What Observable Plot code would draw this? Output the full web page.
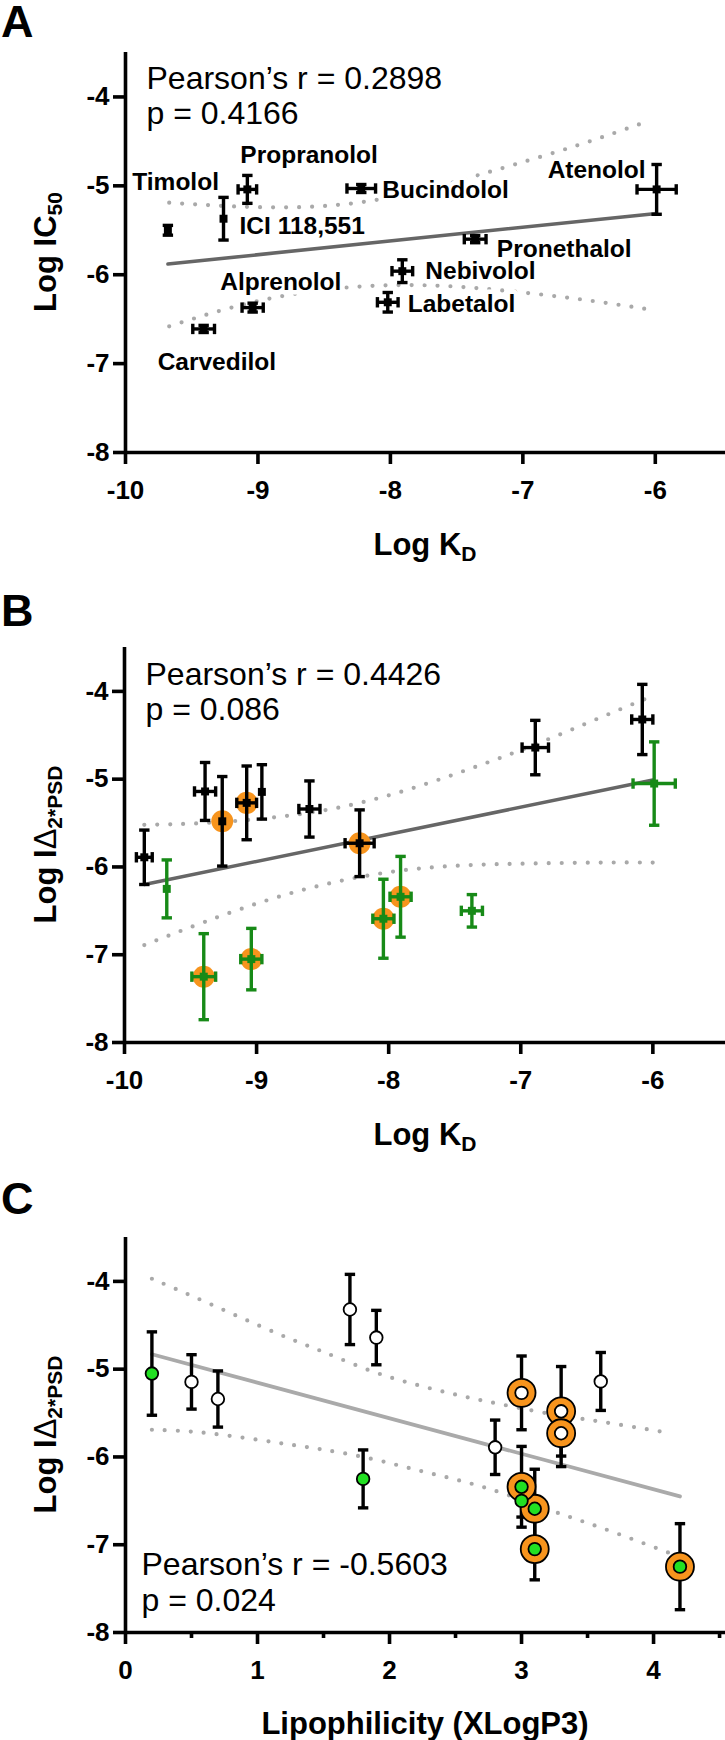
<!DOCTYPE html>
<html>
<head>
<meta charset="utf-8">
<script src="https://cdn.jsdelivr.net/npm/d3@7"></script>
<script src="https://cdn.jsdelivr.net/npm/@observablehq/plot@0.6"></script>
<style>
  html, body { margin: 0; padding: 0; background: white; }
  #chart { width: 725px; height: 1740px; position: relative; overflow: hidden; }
  #chart svg { display: block; }
</style>
</head>
<body>
<div id="chart"></div>
<script>
// ---------------- Panel A data ----------------
const drugsA = ["Timolol", "ICI 118,551", "Propranolol", "Bucindolol", "Atenolol", "Pronethalol", "Nebivolol", "Labetalol", "Alprenolol", "Carvedilol"];
const logKdA = [-9.68, -9.26, -9.08, -8.22, -5.99, -7.36, -7.91, -8.02, -9.04, -9.41];
const logKdErrA = [0, 0, 0.07, 0.108, 0.148, 0.082, 0.078, 0.078, 0.08, 0.082];
const logIC50A = [-5.5, -5.37, -5.04, -5.03, -5.04, -5.6, -5.96, -6.31, -6.37, -6.61];
const logIC50ErrA = [0.055, 0.24, 0.157, 0.045, 0.28, 0.04, 0.128, 0.11, 0.05, 0.04];
const fitXA = [-9.68, -5.99];
const fitYA = [-5.88, -5.31];
const bandXA = [-9.67, -9.2, -8.7, -8.2, -7.7, -7.2, -6.6, -6.05];
const bandUpA = [-5.19, -5.23, -5.24, -5.18, -5.03, -4.82, -4.55, -4.27];
const bandLoA = [-6.58, -6.37, -6.21, -6.13, -6.12, -6.17, -6.27, -6.39];
const statsA = ["Pearson’s r = 0.2898", "p = 0.4166"];

// ---------------- Panel B data ----------------
const logKdB1 = [-9.85, -9.39, -9.26, -9.075, -8.96, -8.60, -8.22, -6.89, -6.08];
const logKdErrB1 = [0.06, 0.08, 0, 0.075, 0, 0.08, 0.11, 0.10, 0.08];
const logDeltaB1 = [-5.89, -5.14, -5.48, -5.27, -5.145, -5.34, -5.73, -4.64, -4.32];
const logDeltaErrB1 = [0.31, 0.33, 0.51, 0.42, 0.31, 0.32, 0.38, 0.31, 0.40];
const highlightB1 = [false, false, true, true, false, false, true, false, false];

const logKdB2 = [-9.68, -9.40, -9.04, -8.04, -7.91, -7.37, -5.99];
const logKdErrB2 = [0, 0.09, 0.08, 0.08, 0.08, 0.08, 0.16];
const logDeltaB2 = [-6.25, -7.25, -7.05, -6.59, -6.34, -6.50, -5.05];
const logDeltaErrB2 = [0.33, 0.49, 0.35, 0.45, 0.46, 0.185, 0.475];
const highlightB2 = [false, true, true, true, true, false, false];

const fitXB = [-9.85, -6.0];
const fitYB = [-6.20, -5.01];
const bandXB = [-9.85, -9.4, -8.9, -8.4, -7.9, -7.4, -6.9, -6.4, -6.0];
const bandUpB = [-5.52, -5.50, -5.44, -5.33, -5.14, -4.89, -4.61, -4.30, -4.05];
const bandLoB = [-6.89, -6.63, -6.37, -6.17, -6.04, -5.98, -5.96, -5.95, -5.95];
const statsB = ["Pearson’s r = 0.4426", "p = 0.086"];

// ---------------- Panel C data ----------------
const xlogpC1 = [2.8, 3.6, 3.3, 3.0, 0.5, 0.7, 3.3, 1.9, 1.7];
const xlogpC2 = [1.8, 4.2, 3.1, 3.1, 3.0, 3.0, 0.2];
const fitXC = [0.2, 4.2];
const fitYC = [-4.83, -6.45];
const bandXC = [0.2, 0.63, 1.16, 1.51, 1.86, 2.21, 2.56, 2.91, 3.26, 3.61, 4.13];
const bandUpC = [-3.97, -4.25, -4.60, -4.81, -5.02, -5.18, -5.31, -5.42, -5.52, -5.60, -5.73];
const bandLoC = [-5.69, -5.73, -5.84, -5.92, -6.02, -6.15, -6.28, -6.44, -6.63, -6.81, -7.10];
const statsC = ["Pearson’s r = -0.5603", "p = 0.024"];

const yTicks = [-8, -7, -6, -5, -4];
const xTicksKd = [-10, -9, -8, -7, -6];
const xTicksC = [0, 1, 2, 3, 4];
const xMinorC = [0.5, 1.5, 2.5, 3.5, 4.5];

// ---------------- styles ----------------
const FONT = "'Liberation Sans', Arial, Helvetica, sans-serif";
const ORANGE = "#F7941D";
const DKGREEN = "#178A17";
const LTGREEN = "#22E022";
const LABEL_STYLE = {
  "Timolol": {dx: -35.6, dy: -48, anchor: "start"},
  "Propranolol": {dx: -7, dy: -34.7, anchor: "start"},
  "ICI 118,551": {dx: 16, dy: 7.9, anchor: "start"},
  "Bucindolol": {dx: 21, dy: 1.4, anchor: "start"},
  "Atenolol": {dx: -11, dy: -19, anchor: "end"},
  "Pronethalol": {dx: 21.7, dy: 10.2, anchor: "start"},
  "Nebivolol": {dx: 23, dy: 0, anchor: "start"},
  "Labetalol": {dx: 20, dy: 2.3, anchor: "start"},
  "Alprenolol": {dx: -32.4, dy: -25.4, anchor: "start"},
  "Carvedilol": {dx: -46, dy: 32.8, anchor: "start"}
};

// ---------------- helpers ----------------
const zipPts = (xs, ys) => xs.map((x, i) => ({x, y: ys[i]}));
const capH = {draw(ctx, size) { const r = Math.sqrt(size / Math.PI); ctx.moveTo(-r, 0); ctx.lineTo(r, 0); }};
const capV = {draw(ctx, size) { const r = Math.sqrt(size / Math.PI); ctx.moveTo(0, -r); ctx.lineTo(0, r); }};
const fmt = d => String(d);

function errorBars(data, color, withX = true) {
  const sw = 3.4, capR = 5.2;
  const yd = data.filter(d => d.ye > 0);
  const xd = withX ? data.filter(d => d.xe > 0) : [];
  return [
    Plot.ruleX(yd, {x: "x", y1: d => d.y - d.ye, y2: d => d.y + d.ye, stroke: color, strokeWidth: sw}),
    Plot.dot(yd, {x: "x", y: d => d.y - d.ye, symbol: capH, r: capR, stroke: color, fill: "none", strokeWidth: sw}),
    Plot.dot(yd, {x: "x", y: d => d.y + d.ye, symbol: capH, r: capR, stroke: color, fill: "none", strokeWidth: sw}),
    Plot.ruleY(xd, {y: "y", x1: d => d.x - d.xe, x2: d => d.x + d.xe, stroke: color, strokeWidth: sw}),
    Plot.dot(xd, {x: d => d.x - d.xe, y: "y", symbol: capV, r: capR, stroke: color, fill: "none", strokeWidth: sw}),
    Plot.dot(xd, {x: d => d.x + d.xe, y: "y", symbol: capV, r: capR, stroke: color, fill: "none", strokeWidth: sw})
  ];
}

function bandMarks(xs, up, lo) {
  const o = {x: "x", y: "y", stroke: "#a9a9a9", strokeWidth: 4.2, strokeDasharray: "0 13", strokeLinecap: "round", curve: "natural"};
  return [Plot.line(zipPts(xs, up), o), Plot.line(zipPts(xs, lo), o)];
}

function statsText(lines, dx, dy) {
  return Plot.text([lines.join("\n")], {text: d => d, frameAnchor: "top-left", textAnchor: "start", lineAnchor: "top",
    dx, dy, fontSize: 32, fontWeight: "normal", lineHeight: 1.12, fill: "black"});
}

function makePanel({height, marginTop, marginBottom, marginLeft, xDomain, xTicks, xMinor, marks}) {
  return Plot.plot({
    width: 725, height, marginTop, marginBottom, marginLeft, marginRight: 0,
    x: {domain: xDomain}, y: {domain: [-8, -3.5]},
    style: {fontFamily: FONT, background: "white", color: "black", overflow: "visible"},
    marks: [
      ...marks,
      Plot.ruleX([xDomain[0]], {strokeWidth: 3.6}),
      Plot.ruleY([-8], {strokeWidth: 3.6}),
      Plot.axisY({ticks: yTicks, tickSize: 12, tickPadding: 4, tickFormat: fmt, fontSize: 26, fontWeight: "bold", strokeWidth: 3.6, label: null}),
      Plot.axisX({ticks: xTicks, tickSize: 12, tickPadding: 16, tickFormat: fmt, fontSize: 26, fontWeight: "bold", strokeWidth: 3.6, label: null}),
      ...(xMinor ? [Plot.axisX({ticks: xMinor, tickSize: 6, tickFormat: () => "", strokeWidth: 3.6, label: null})] : [])
    ]
  });
}

function addLetter(svg, letter, baseline) {
  d3.select(svg).append("text").attr("x", 1).attr("y", baseline).attr("text-anchor", "start").attr("font-family", FONT)
    .attr("font-size", 45).attr("font-weight", "bold").attr("fill", "black").text(letter);
}
function addXTitle(svg, main, sub, baseline) {
  const t = d3.select(svg).append("text").attr("x", 425).attr("y", baseline).attr("text-anchor", "middle")
    .attr("font-family", FONT).attr("font-size", 31).attr("font-weight", "bold").attr("fill", "black");
  t.append("tspan").text(main);
  if (sub) t.append("tspan").attr("font-size", 21).attr("dy", 6).text(sub);
}
function addYTitle(svg, parts, cy) {
  const t = d3.select(svg).append("text").attr("transform", `translate(56,${cy}) rotate(-90)`).attr("text-anchor", "middle")
    .attr("font-family", FONT).attr("font-size", 31).attr("font-weight", "bold").attr("fill", "black");
  for (const p of parts) {
    const s = t.append("tspan").text(p.text);
    if (p.weight) s.attr("font-weight", p.weight);
    if (p.sub) s.attr("font-size", 21).attr("dy", 6);
  }
}

// ---------------- build data records ----------------
const recA = drugsA.map((name, i) => ({name, x: logKdA[i], xe: logKdErrA[i], y: logIC50A[i], ye: logIC50ErrA[i]}));
const recB1 = logKdB1.map((x, i) => ({x, xe: logKdErrB1[i], y: logDeltaB1[i], ye: logDeltaErrB1[i], hl: highlightB1[i]}));
const recB2 = logKdB2.map((x, i) => ({x, xe: logKdErrB2[i], y: logDeltaB2[i], ye: logDeltaErrB2[i], hl: highlightB2[i]}));
const recC1 = xlogpC1.map((x, i) => ({x, xe: 0, y: logDeltaB1[i], ye: logDeltaErrB1[i], hl: highlightB1[i]}));
const recC2 = xlogpC2.map((x, i) => ({x, xe: 0, y: logDeltaB2[i], ye: logDeltaErrB2[i], hl: highlightB2[i]}));

// ---------------- Panel A ----------------
const labelHaloA = recA.map(d => {
  const s = LABEL_STYLE[d.name];
  return Plot.text([d], {x: "x", y: "y", text: "name", dx: s.dx, dy: s.dy, textAnchor: s.anchor, fontSize: 24.5, fontWeight: "bold", fill: "white", stroke: "white", strokeWidth: 9});
});
const labelTextA = recA.map(d => {
  const s = LABEL_STYLE[d.name];
  return Plot.text([d], {x: "x", y: "y", text: "name", dx: s.dx, dy: s.dy, textAnchor: s.anchor, fontSize: 24.5, fontWeight: "bold", fill: "black"});
});

const svgA = makePanel({
  height: 580, marginTop: 52, marginBottom: 128, marginLeft: 125, xDomain: [-10, -5.47], xTicks: xTicksKd,
  marks: [
    ...bandMarks(bandXA, bandUpA, bandLoA),
    ...labelHaloA,
    Plot.line(zipPts(fitXA, fitYA), {x: "x", y: "y", stroke: "#666", strokeWidth: 3.5}),
    ...errorBars(recA, "black"),
    Plot.dot(recA, {x: "x", y: "y", symbol: "square", r: 4.5, fill: "black"}),
    ...labelTextA,
    statsText(statsA, 21, 10.6)
  ]
});
addLetter(svgA, "A", 37);
addXTitle(svgA, "Log K", "D", 555);
addYTitle(svgA, [{text: "Log IC"}, {text: "50", sub: true}], 252);

// ---------------- Panel B ----------------
const svgB = makePanel({
  height: 580, marginTop: 67, marginBottom: 118, marginLeft: 124, xDomain: [-10, -5.45], xTicks: xTicksKd,
  marks: [
    ...bandMarks(bandXB, bandUpB, bandLoB),
    Plot.line(zipPts(fitXB, fitYB), {x: "x", y: "y", stroke: "#666", strokeWidth: 3.5}),
    Plot.dot(recB1.concat(recB2).filter(d => d.hl), {x: "x", y: "y", r: 11, fill: ORANGE}),
    ...errorBars(recB1, "black"),
    ...errorBars(recB2, DKGREEN),
    Plot.dot(recB1, {x: "x", y: "y", symbol: "square", r: 4.5, fill: "black"}),
    Plot.dot(recB2, {x: "x", y: "y", symbol: "square", r: 4.5, fill: DKGREEN}),
    statsText(statsB, 21, 11.6)
  ]
});
addLetter(svgB, "B", 46);
addXTitle(svgB, "Log K", "D", 565);
addYTitle(svgB, [{text: "Log I"}, {text: "Δ", weight: "normal"}, {text: "2*PSD", sub: true}], 264.5);

// ---------------- Panel C ----------------
const svgC = makePanel({
  height: 580, marginTop: 77, marginBottom: 108, marginLeft: 125, xDomain: [0, 4.545], xTicks: xTicksC, xMinor: xMinorC,
  marks: [
    ...bandMarks(bandXC, bandUpC, bandLoC),
    Plot.line(zipPts(fitXC, fitYC), {x: "x", y: "y", stroke: "#aaaaaa", strokeWidth: 3.8}),
    ...errorBars(recC1.concat(recC2), "black", false),
    Plot.dot(recC1.concat(recC2).filter(d => d.hl), {x: "x", y: "y", r: 14, fill: ORANGE, stroke: "black", strokeWidth: 1.8}),
    Plot.dot(recC1, {x: "x", y: "y", r: 6.3, fill: "white", stroke: "black", strokeWidth: 1.8}),
    Plot.dot(recC2, {x: "x", y: "y", r: 6.3, fill: LTGREEN, stroke: "black", strokeWidth: 1.8}),
    statsText(statsC, 16, 312)
  ]
});
addLetter(svgC, "C", 54);
addXTitle(svgC, "Lipophilicity (XLogP3)", null, 574);
addYTitle(svgC, [{text: "Log I"}, {text: "Δ", weight: "normal"}, {text: "2*PSD", sub: true}], 274.5);

const chart = document.getElementById("chart");
chart.append(svgA, svgB, svgC);
</script>
</body>
</html>
